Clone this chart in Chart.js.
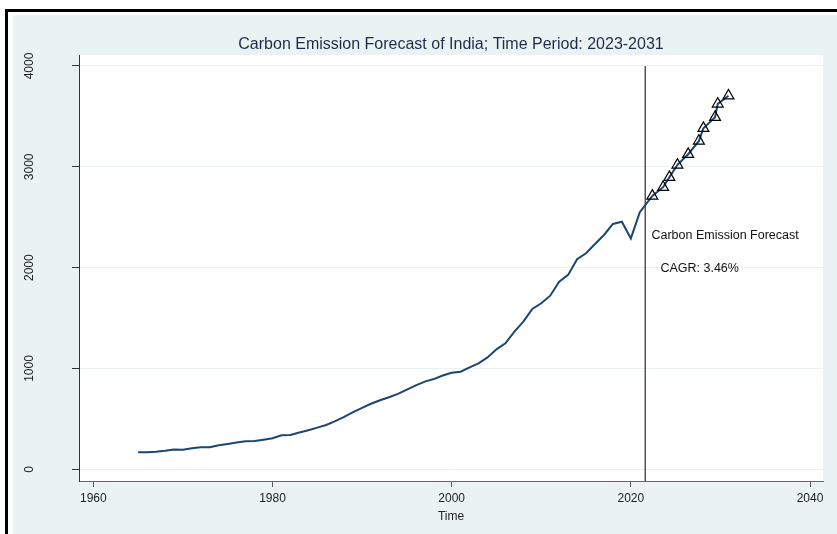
<!DOCTYPE html>
<html>
<head>
<meta charset="utf-8">
<script src="https://cdn.jsdelivr.net/npm/chart.js@4/dist/chart.umd.min.js"></script>
<style>
  html, body { margin: 0; padding: 0; background: #ffffff; }
  #wrap { width: 837px; height: 534px; }
</style>
</head>
<body>
<div id="wrap"><canvas id="chart" width="837" height="534"></canvas></div>
<script>
// India carbon emissions (million tonnes), observed series
const years = [
  1965, 1966, 1967, 1968, 1969, 1970, 1971, 1972, 1973, 1974,
  1975, 1976, 1977, 1978, 1979, 1980, 1981, 1982, 1983, 1984,
  1985, 1986, 1987, 1988, 1989, 1990, 1991, 1992, 1993, 1994,
  1995, 1996, 1997, 1998, 1999, 2000, 2001, 2002, 2003, 2004,
  2005, 2006, 2007, 2008, 2009, 2010, 2011, 2012, 2013, 2014,
  2015, 2016, 2017, 2018, 2019, 2020, 2021
];
const emissions = [
  168, 169, 175, 183, 196, 194, 209, 218, 219, 238,
  252, 265, 278, 280, 293, 308, 338, 340, 365, 388,
  413, 440, 478, 520, 568, 610, 650, 685, 715, 748,
  790, 832, 870, 895, 930, 958, 968, 1010, 1050, 1110,
  1190, 1250, 1365, 1464, 1590, 1647, 1722, 1861, 1928, 2083,
  2143, 2235, 2324, 2433, 2456, 2290, 2550
];

// Forecast points
const forecastTimes = [2022.4, 2023.6, 2024.3, 2025.2, 2026.4, 2027.6, 2028.1, 2029.4, 2029.7, 2030.9];
const forecastValues = [2711, 2798, 2897, 3019, 3125, 3257, 3383, 3492, 3624, 3705];

// Start of the forecast window
const forecastStart = 2021.6;

// Axis ranges and tick values
const xMin = 1958.4, xMax = 2041.45;
const xTickValues = [1960, 1980, 2000, 2020, 2040];
const yMin = -116, yMax = 4109;
const yTickValues = [0, 1000, 2000, 3000, 4000];

const titleText = 'Carbon Emission Forecast of India; Time Period: 2023-2031';
const noteLines = ['Carbon Emission Forecast', 'CAGR: 3.46%'];

const FONT = "'Liberation Sans', Arial, sans-serif";
const BG = '#EAF2F3';
const NAVY = '#1A476F';

const historyPoints = years.map((y, i) => ({ x: y, y: emissions[i] }));
const forecastPoints = forecastTimes.map((t, i) => ({ x: t, y: forecastValues[i] }));
const yTop = yTickValues[yTickValues.length - 1];

// Page frame, outer panel and white plot region
const framePlugin = {
  id: 'frame',
  beforeDraw(chart) {
    const { ctx, width, height, chartArea: a } = chart;
    ctx.save();
    ctx.fillStyle = '#ffffff';
    ctx.fillRect(0, 0, width, height);
    ctx.fillStyle = '#000000';
    ctx.fillRect(5, 9, width - 5, 3);
    ctx.fillRect(5, 9, 3, height - 9);
    ctx.fillStyle = BG;
    ctx.fillRect(13, 15, width - 13, height - 15);
    ctx.fillStyle = '#ffffff';
    ctx.fillRect(a.left, a.top, a.right - a.left, a.bottom - a.top);
    ctx.restore();
  },
  afterDraw(chart) {
    const { ctx, chartArea: a, scales } = chart;
    ctx.save();
    ctx.fillStyle = '#1B2D4A';
    ctx.font = '16px ' + FONT;
    ctx.textAlign = 'center';
    ctx.textBaseline = 'middle';
    ctx.fillText(titleText, (a.left + a.right) / 2, 45);

    ctx.fillStyle = '#111111';
    ctx.font = '12.5px ' + FONT;
    ctx.textAlign = 'left';
    ctx.fillText(noteLines[0], scales.x.getPixelForValue(2022.3), scales.y.getPixelForValue(2314));
    ctx.fillText(noteLines[1], scales.x.getPixelForValue(2023.3), scales.y.getPixelForValue(1995));
    ctx.restore();
  }
};

new Chart(document.getElementById('chart'), {
  type: 'line',
  data: {
    datasets: [
      {
        label: 'Carbon emission',
        data: historyPoints.concat(forecastPoints),
        borderColor: NAVY,
        borderWidth: 2,
        pointRadius: 0,
        tension: 0,
        fill: false,
        order: 2
      },
      {
        label: 'Forecast',
        data: forecastPoints,
        showLine: false,
        pointStyle: 'triangle',
        pointRadius: 6.3,
        pointBorderWidth: 1.2,
        pointBorderColor: '#000000',
        pointBackgroundColor: 'rgba(0,0,0,0)',
        order: 1
      },
      {
        label: 'Forecast start',
        data: [{ x: forecastStart, y: yMin }, { x: forecastStart, y: yTop }],
        borderColor: '#000000',
        borderWidth: 1,
        pointRadius: 0,
        fill: false,
        order: 3
      }
    ]
  },
  options: {
    responsive: false,
    animation: false,
    devicePixelRatio: 1,
    layout: { padding: { left: 0, top: 55, right: 14, bottom: 0 } },
    plugins: {
      legend: { display: false },
      tooltip: { enabled: false },
      title: { display: false }
    },
    scales: {
      x: {
        type: 'linear',
        min: xMin,
        max: xMax,
        afterBuildTicks(scale) { scale.ticks = xTickValues.map(v => ({ value: v })); },
        afterFit(scale) { scale.height = 53; },
        ticks: {
          autoSkip: false,
          maxRotation: 0,
          padding: 4,
          color: '#222222',
          font: { family: FONT, size: 12 },
          callback: v => String(v)
        },
        grid: { drawOnChartArea: false, drawTicks: true, tickLength: 6, tickColor: '#555555' },
        border: { display: true, color: '#666666', width: 1 },
        title: {
          display: true,
          text: 'Time',
          color: '#222222',
          font: { family: FONT, size: 12 },
          padding: { top: 0, bottom: 10 }
        }
      },
      y: {
        type: 'linear',
        min: yMin,
        max: yMax,
        afterBuildTicks(scale) { scale.ticks = yTickValues.map(v => ({ value: v })); },
        afterFit(scale) { scale.width = 79; },
        ticks: {
          autoSkip: false,
          minRotation: 90,
          maxRotation: 90,
          crossAlign: 'center',
          padding: 29,
          color: '#222222',
          font: { family: FONT, size: 12 },
          callback: v => String(v)
        },
        grid: { color: BG, lineWidth: 1, drawTicks: true, tickLength: 7, tickColor: '#333333' },
        border: { display: true, color: '#333333', width: 1 }
      }
    }
  },
  plugins: [framePlugin]
});
</script>
</body>
</html>
